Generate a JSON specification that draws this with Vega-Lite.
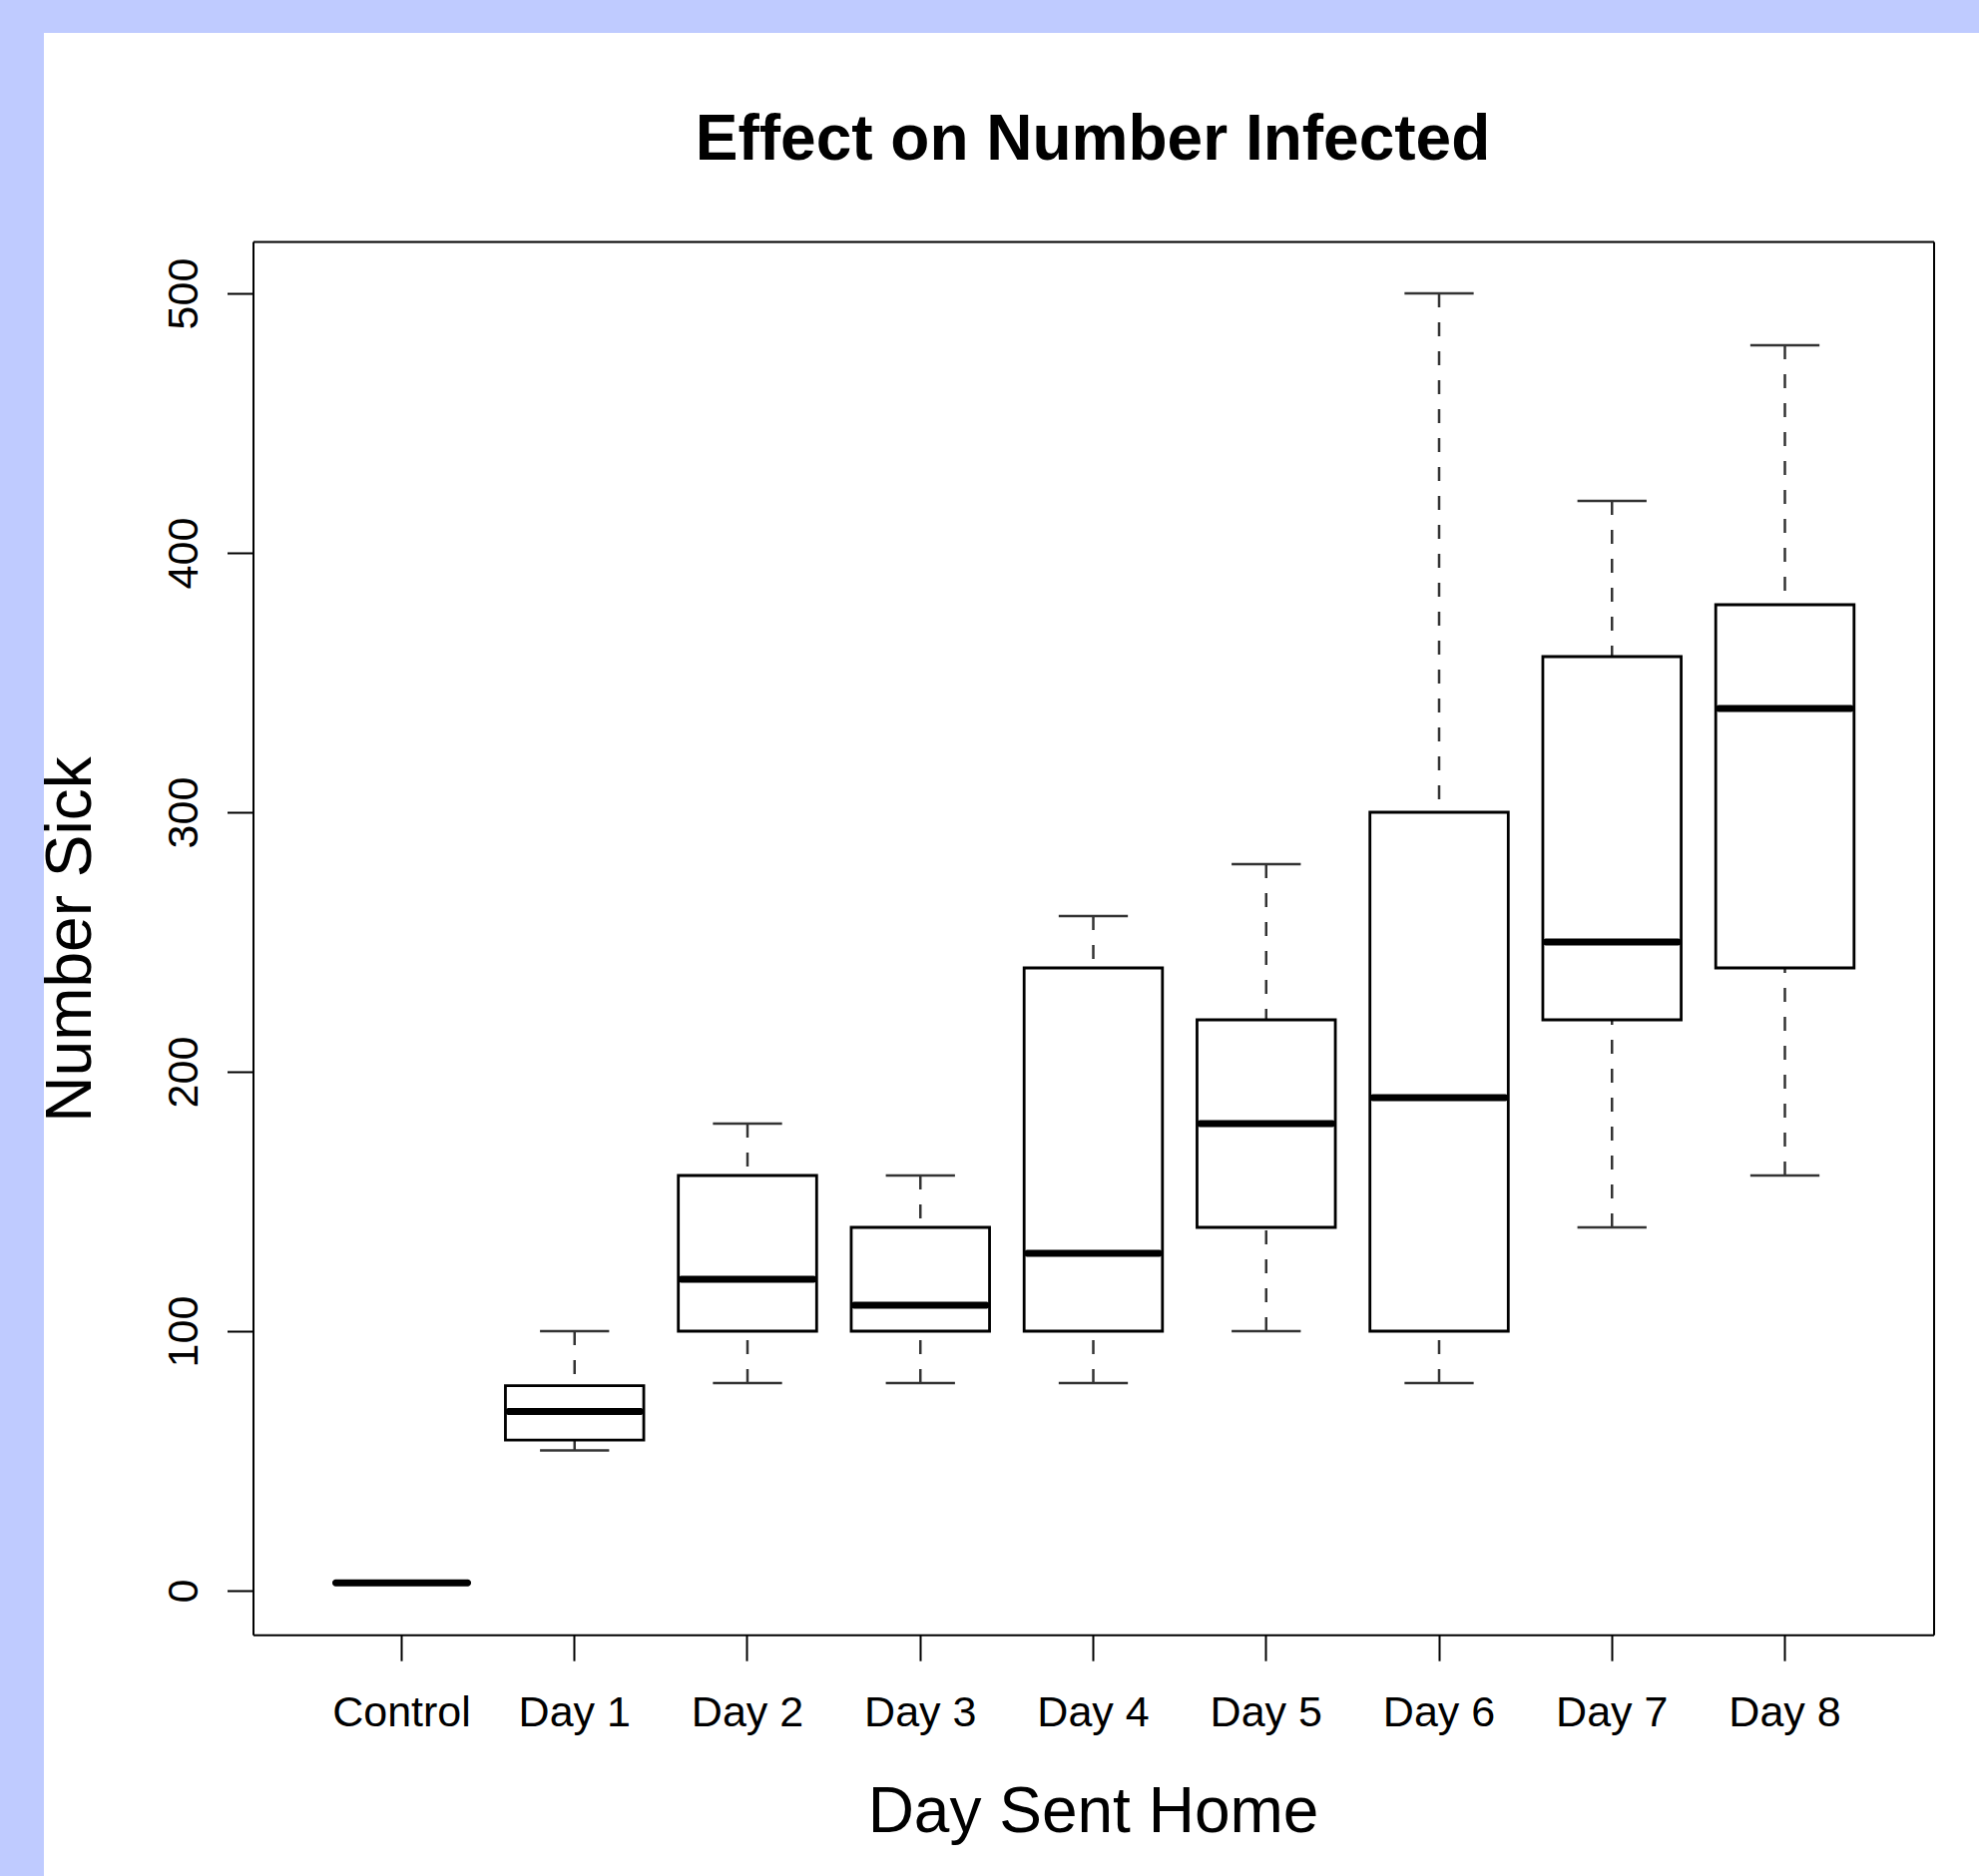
{
  "$schema": "https://vega.github.io/schema/vega-lite/v6.json",
  "width": 1939,
  "height": 1847,
  "autosize": {"type": "none"},
  "padding": {"left": 44, "top": 33, "right": 0, "bottom": 0},
  "background": "#BFCBFF",
  "config": {"view": {"fill": "white", "stroke": null}, "font": "Liberation Sans"},
  "title": {"text": "Effect on Number Infected", "fontSize": 64, "fontWeight": "bold", "font": "Liberation Sans", "color": "black", "anchor": "middle", "frame": "group", "baseline": "alphabetic", "offset": -191, "dx": 81.5},
  "data": {"values": [
    {"day": "Control", "lower": 3, "q1": 3, "median": 3, "q3": 3, "upper": 3},
    {"day": "Day 1", "lower": 54, "q1": 58, "median": 69, "q3": 79, "upper": 100},
    {"day": "Day 2", "lower": 80, "q1": 100, "median": 120, "q3": 160, "upper": 180},
    {"day": "Day 3", "lower": 80, "q1": 100, "median": 110, "q3": 140, "upper": 160},
    {"day": "Day 4", "lower": 80, "q1": 100, "median": 130, "q3": 240, "upper": 260},
    {"day": "Day 5", "lower": 100, "q1": 140, "median": 180, "q3": 220, "upper": 280},
    {"day": "Day 6", "lower": 80, "q1": 100, "median": 190, "q3": 300, "upper": 500},
    {"day": "Day 7", "lower": 140, "q1": 220, "median": 250, "q3": 360, "upper": 420},
    {"day": "Day 8", "lower": 160, "q1": 240, "median": 340, "q3": 380, "upper": 480}
  ]},
  "resolve": {"axis": {"x": "independent", "y": "independent"}},
  "layer": [
    {
      "mark": {"type": "rule", "color": "#333", "strokeWidth": 2.5, "strokeDash": [14, 15], "opacity": 1},
      "encoding": {
        "x": {"field": "day", "type": "nominal", "sort": null, "scale": {"type": "band", "range": [209.5, 1893.5], "paddingInner": 0.2, "paddingOuter": 0.46}, "axis": null},
        "y": {"field": "upper", "type": "quantitative", "scale": {"domain": [-17, 520], "range": [1605.2, 209], "nice": false, "zero": false}, "axis": null},
        "y2": {"field": "q3"}
      }
    },
    {
      "mark": {"type": "rule", "color": "#333", "strokeWidth": 2.5, "strokeDash": [14, 15], "opacity": 1},
      "encoding": {
        "x": {"field": "day", "type": "nominal", "sort": null, "scale": {"type": "band", "range": [209.5, 1893.5], "paddingInner": 0.2, "paddingOuter": 0.46}, "axis": null},
        "y": {"field": "lower", "type": "quantitative", "scale": {"domain": [-17, 520], "range": [1605.2, 209], "nice": false, "zero": false}, "axis": null},
        "y2": {"field": "q1"}
      }
    },
    {
      "mark": {"type": "tick", "color": "#333", "thickness": 2.5, "size": 69.3, "opacity": 1},
      "encoding": {
        "x": {"field": "day", "type": "nominal", "sort": null, "scale": {"type": "band", "range": [209.5, 1893.5], "paddingInner": 0.2, "paddingOuter": 0.46}, "axis": null},
        "y": {"field": "upper", "type": "quantitative", "scale": {"domain": [-17, 520], "range": [1605.2, 209], "nice": false, "zero": false}, "axis": null}
      }
    },
    {
      "mark": {"type": "tick", "color": "#333", "thickness": 2.5, "size": 69.3, "opacity": 1},
      "encoding": {
        "x": {"field": "day", "type": "nominal", "sort": null, "scale": {"type": "band", "range": [209.5, 1893.5], "paddingInner": 0.2, "paddingOuter": 0.46}, "axis": null},
        "y": {"field": "lower", "type": "quantitative", "scale": {"domain": [-17, 520], "range": [1605.2, 209], "nice": false, "zero": false}, "axis": null}
      }
    },
    {
      "mark": {"type": "bar", "fill": "white", "stroke": "black", "strokeWidth": 2.8, "opacity": 1},
      "encoding": {
        "x": {"field": "day", "type": "nominal", "sort": null, "scale": {"type": "band", "range": [209.5, 1893.5], "paddingInner": 0.2, "paddingOuter": 0.46},
          "axis": {"orient": "bottom", "offset": -241.8, "title": "Day Sent Home", "titleFont": "Liberation Sans", "titleFontSize": 64, "titleFontWeight": "normal", "titleColor": "black", "titleX": 1051, "titleY": 197, "titleBaseline": "alphabetic", "titleAlign": "center", "domain": true, "domainColor": "black", "domainWidth": 2, "ticks": true, "tickColor": "black", "tickWidth": 2, "tickSize": 26, "labelFont": "Liberation Sans", "labelFontSize": 43, "labelColor": "black", "labelPadding": 31, "labelAngle": 0, "labelFlush": false, "labelOverlap": false, "grid": false}},
        "y": {"field": "q1", "type": "quantitative", "scale": {"domain": [-17, 520], "range": [1605.2, 209], "nice": false, "zero": false},
          "axis": {"orient": "left", "offset": -209.5, "values": [0, 100, 200, 300, 400, 500], "title": "Number Sick", "titleFont": "Liberation Sans", "titleFontSize": 64, "titleFontWeight": "normal", "titleColor": "black", "titleAngle": -90, "titleX": -163.5, "titleY": 908, "titleBaseline": "alphabetic", "titleAlign": "center", "domain": true, "domainColor": "black", "domainWidth": 2, "ticks": true, "tickColor": "black", "tickWidth": 2, "tickSize": 26, "labelFont": "Liberation Sans", "labelFontSize": 43, "labelColor": "black", "labelAngle": -90, "labelAlign": "center", "labelBaseline": "alphabetic", "labelPadding": 30.5, "labelFlush": false, "labelOverlap": false, "grid": false}},
        "y2": {"field": "q3"}
      }
    },
    {
      "mark": {"type": "tick", "color": "black", "thickness": 7, "size": 138.6, "cornerRadius": 3, "opacity": 1},
      "encoding": {
        "x": {"field": "day", "type": "nominal", "sort": null, "scale": {"type": "band", "range": [209.5, 1893.5], "paddingInner": 0.2, "paddingOuter": 0.46}, "axis": null},
        "y": {"field": "median", "type": "quantitative", "scale": {"domain": [-17, 520], "range": [1605.2, 209], "nice": false, "zero": false}, "axis": null}
      }
    },
    {
      "mark": {"type": "point", "opacity": 0},
      "encoding": {
        "x": {"field": "day", "type": "nominal", "sort": null, "scale": {"type": "band", "range": [209.5, 1893.5], "paddingInner": 0.2, "paddingOuter": 0.46},
          "axis": {"orient": "top", "offset": -209, "domain": true, "domainColor": "black", "domainWidth": 2, "ticks": false, "labels": false, "title": null, "grid": false}},
        "y": {"field": "median", "type": "quantitative", "scale": {"domain": [-17, 520], "range": [1605.2, 209], "nice": false, "zero": false},
          "axis": {"orient": "right", "offset": -45.5, "domain": true, "domainColor": "black", "domainWidth": 2, "ticks": false, "labels": false, "title": null, "grid": false}}
      }
    }
  ]
}
